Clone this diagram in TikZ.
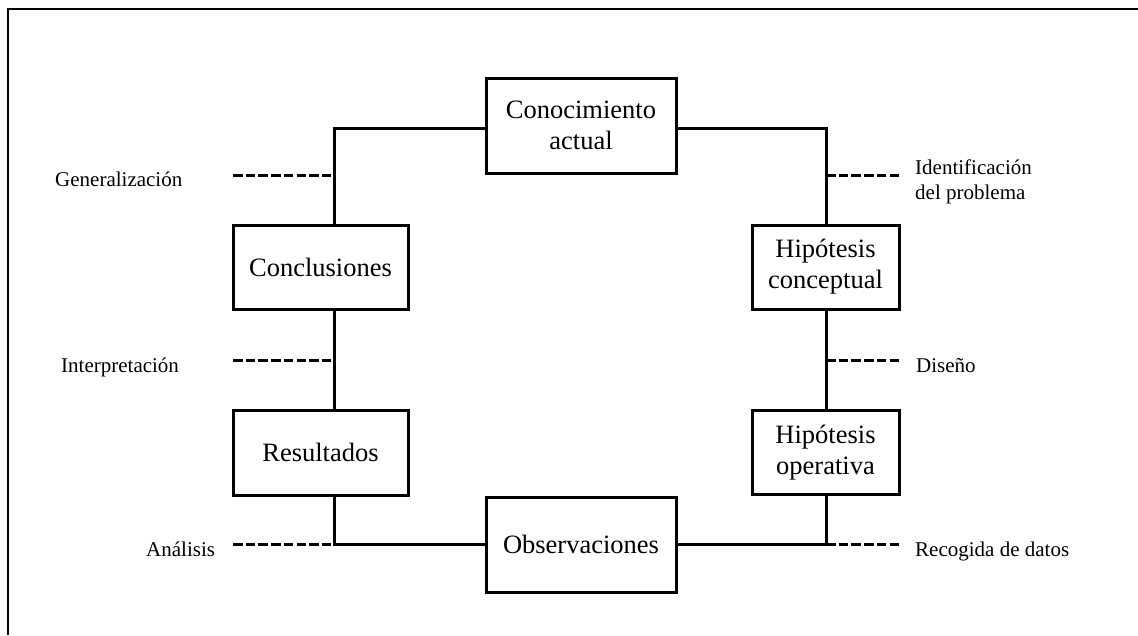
\documentclass[tikz,border=0pt]{standalone}
\usepackage{fontspec}
\setmainfont{Liberation Serif}
\begin{document}
\begin{tikzpicture}[x=1pt,y=-1pt,
  box/.style={draw, line width=3pt, inner sep=0pt, align=center,
    font=\fontsize{26.5}{31}\selectfont},
  lbl/.style={inner sep=0pt, align=left, font=\fontsize{21}{25}\selectfont},
  conn/.style={line width=3pt},
  dashline/.style={line width=3pt, dash pattern=on 9.5pt off 3.2pt}]
\useasboundingbox (0,0) rectangle (1138,635);
\draw[line width=1.2pt] (8,635) -- (8,9) -- (1138,9);

\node[box, minimum width=190pt, minimum height=95pt] (know) at (581,125.5) {Conocimiento\\actual};
\node[box, minimum width=175pt, minimum height=84pt] (concl) at (320.5,267) {Conclusiones};
\node[box, minimum width=175pt, minimum height=85pt] (res) at (320.5,452.5) {Resultados};
\node[box, minimum width=190pt, minimum height=95pt] (obs) at (581,544.5) {Observaciones};
\node[box, minimum width=147pt, minimum height=84pt] (hc) at (825.5,267) {Hipótesis\\conceptual};
\node[box, minimum width=147pt, minimum height=84pt] (ho) at (825.5,452.5) {Hipótesis\\operativa};

\coordinate (tl) at (334,128);
\coordinate (tr) at (826,128);

\draw[conn] ([yshift=-2.5pt]know.west) -| (concl.north -| tl);
\draw[conn] (concl.south -| tl) -- (res.north -| tl);
\draw[conn] (res.south -| tl) |- (obs.west);
\draw[conn] ([yshift=-2.5pt]know.east) -| (hc.north -| tr);
\draw[conn] (hc.south -| tr) -- (ho.north -| tr);
\draw[conn] (ho.south -| tr) |- (obs.east);

\coordinate (d1) at (233,175);
\coordinate (d2) at (233,360);
\coordinate (d3) at (233,544);
\coordinate (e1) at (900,175);
\coordinate (e2) at (900,360);
\coordinate (e3) at (900,544);
\draw[dashline] (d1) -- (d1 -| tl);
\draw[dashline] (d2) -- (d2 -| tl);
\draw[dashline] (d3) -- (d3 -| tl);
\draw[dashline] (e1 -| tr) -- (e1);
\draw[dashline] (e2 -| tr) -- (e2);
\draw[dashline] (e3 -| tr) -- (e3);

\node[lbl, anchor=base west] (lgen) at (55,186) {Generalización};
\node[lbl, anchor=base west] (lint) at (61,372) {Interpretación};
\node[lbl, anchor=base west] (lana) at (146,556) {Análisis};
\node[lbl, anchor=base west] (lide) at (915,199) {Identificación\\del problema};
\node[lbl, anchor=base west] (ldis) at (916,372) {Diseño};
\node[lbl, anchor=base west] (lrec) at (915,556) {Recogida de datos};
\end{tikzpicture}
\end{document}
